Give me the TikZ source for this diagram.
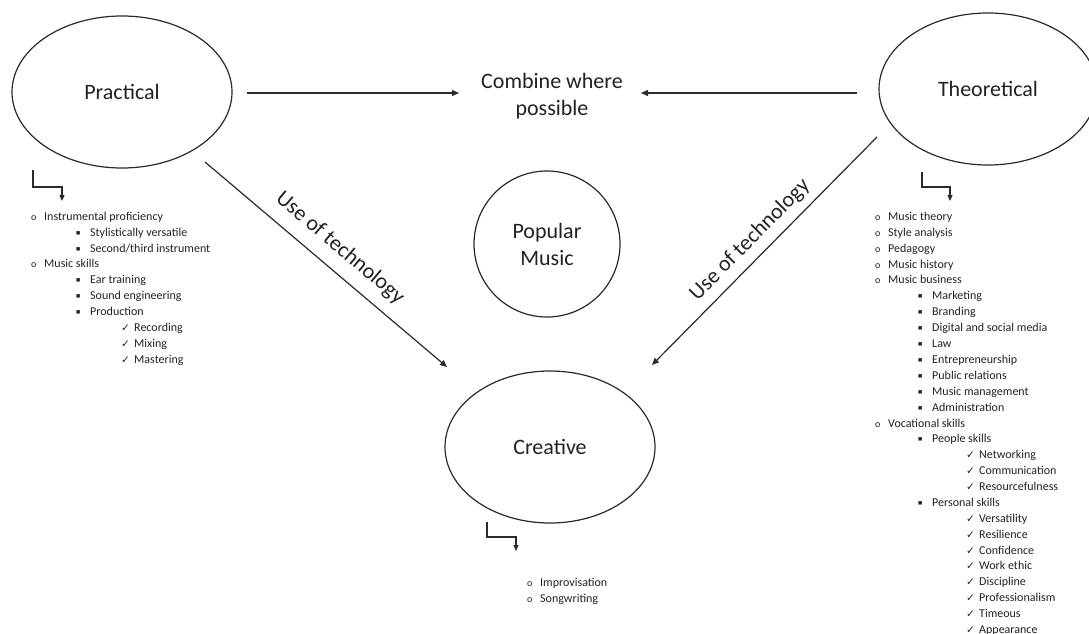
\documentclass[tikz,border=0pt]{standalone}
\usepackage{fontspec}
\setmainfont{Carlito}
\newfontfamily\symfnt{DejaVu Sans}
\usetikzlibrary{arrows.meta,shapes.geometric}
\definecolor{ink}{HTML}{222222}
\definecolor{linec}{HTML}{2A2A2A}
\newcommand\bo{\makebox[13pt][l]{\fontsize{10}{12}\selectfont o}}
\newcommand\bs{\makebox[14pt][l]{\raisebox{1.5pt}{\symfnt\fontsize{4.5}{6}\selectfont ■}}}
\newcommand\bc{\makebox[13pt][l]{\symfnt\fontsize{10.5}{12}\selectfont ✓}}
\begin{document}
\begin{tikzpicture}[x=1pt,y=-1pt,
  big/.style={font=\fontsize{22}{27}\selectfont, text=ink, align=center},
  oval/.style={big, draw=linec, line width=1.2pt, ellipse, inner sep=0pt, minimum width=#1, minimum height=152pt},
  circ/.style={big, draw=linec, line width=1.2pt, circle, inner sep=0pt, minimum size=146pt},
  arr/.style={draw=linec, line width=1.2pt, -{Triangle[length=7pt,width=6pt]}},
  elb/.style={draw=linec, line width=1.1pt, -{Triangle[length=6pt,width=5pt]}},
  lst/.style={font=\fontsize{12}{14}\selectfont, text=ink, anchor=base west, inner sep=0pt}
]
\useasboundingbox (0,0) rectangle (1089,634);
\fill[white] (0,0) rectangle (1089,634);

% main nodes
\node[oval=220pt] (prac) at (122,92) {Practical};
\node[oval=218pt] (theo) at (988,89) {Theoretical};
\node[oval=210pt] (crea) at (550,447) {Creative};
\node[circ] (pop) at (547,244) {Popular\\Music};
\node[big] (comb) at (552,96) {Combine where\\possible};

% connector ends
\coordinate (pe) at (247,93);
\coordinate (ce1) at (459,93);
\coordinate (te) at (857,93);
\coordinate (ce2) at (641,93);
\coordinate (ps) at (205,162);
\coordinate (cr1) at (447,367);
\coordinate (ts) at (877,137);
\coordinate (cr2) at (652,365);

\draw[arr] (pe) -- (ce1);
\draw[arr] (te) -- (ce2);
\draw[arr] (ps) -- (cr1);
\draw[arr] (ts) -- (cr2);

\node[big, rotate=-40.3] (lt1) at (340,248) {Use of technology};
\node[big, rotate=45.4] (lt2) at (750,240) {Use of technology};

% elbow arrows
\coordinate (e1a) at (33,170);
\coordinate (e1b) at (62,201);
\draw[elb] (e1a) |- (47.5,187) -| (e1b);
\coordinate (e2a) at (922,172);
\coordinate (e2b) at (950,201);
\draw[elb] (e2a) |- (936,187) -| (e2b);
\coordinate (e3a) at (487,522);
\coordinate (e3b) at (516,551);
\draw[elb] (e3a) |- (500,537) -| (e3b);

% practical list
\node[lst] (p1) at (31,220) {\bo Instrumental proficiency};
\node[lst] (p2) at (76,236) {\bs Stylistically versatile};
\node[lst] (p3) at (76,252) {\bs Second/third instrument};
\node[lst] (p4) at (31,267) {\bo Music skills};
\node[lst] (p5) at (76,283) {\bs Ear training};
\node[lst] (p6) at (76,299) {\bs Sound engineering};
\node[lst] (p7) at (76,315) {\bs Production};
\node[lst] (p8) at (121,331) {\bc Recording};
\node[lst] (p9) at (121,347) {\bc Mixing};
\node[lst] (p10) at (121,363) {\bc Mastering};

% theoretical list
\node[lst] (t1) at (875,220) {\bo Music theory};
\node[lst] (t2) at (875,236) {\bo Style analysis};
\node[lst] (t3) at (875,252) {\bo Pedagogy};
\node[lst] (t4) at (875,268) {\bo Music history};
\node[lst] (t5) at (875,283) {\bo Music business};
\node[lst] (t6) at (918,299) {\bs Marketing};
\node[lst] (t7) at (918,315) {\bs Branding};
\node[lst] (t8) at (918,331) {\bs Digital and social media};
\node[lst] (t9) at (918,347) {\bs Law};
\node[lst] (t10) at (918,363) {\bs Entrepreneurship};
\node[lst] (t11) at (918,379) {\bs Public relations};
\node[lst] (t12) at (918,395) {\bs Music management};
\node[lst] (t13) at (918,411) {\bs Administration};
\node[lst] (t14) at (875,427) {\bo Vocational skills};
\node[lst] (t15) at (918,442) {\bs People skills};
\node[lst] (t16) at (966,458) {\bc Networking};
\node[lst] (t17) at (966,474) {\bc Communication};
\node[lst] (t18) at (966,490) {\bc Resourcefulness};
\node[lst] (t19) at (918,506) {\bs Personal skills};
\node[lst] (t20) at (966,522) {\bc Versatility};
\node[lst] (t21) at (966,538) {\bc Resilience};
\node[lst] (t22) at (966,554) {\bc Confidence};
\node[lst] (t23) at (966,569) {\bc Work ethic};
\node[lst] (t24) at (966,585) {\bc Discipline};
\node[lst] (t25) at (966,601) {\bc Professionalism};
\node[lst] (t26) at (966,617) {\bc Timeous};
\node[lst] (t27) at (966,633) {\bc Appearance};

% creative list
\node[lst] (c1) at (527,586) {\bo Improvisation};
\node[lst] (c2) at (527,602) {\bo Songwriting};
\end{tikzpicture}
\end{document}
